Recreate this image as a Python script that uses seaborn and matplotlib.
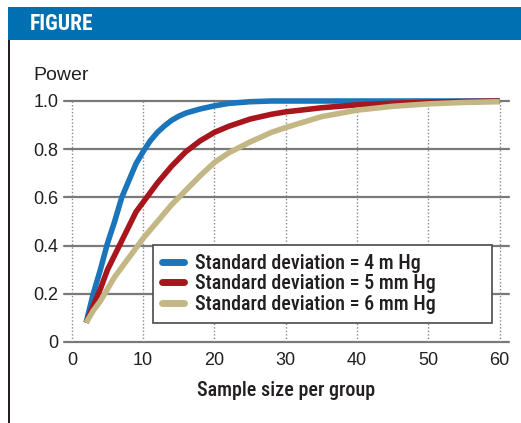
import matplotlib
matplotlib.use("Agg")
import matplotlib.pyplot as plt
import seaborn as sns
import pandas as pd
from matplotlib.patches import Rectangle
from matplotlib.lines import Line2D
from matplotlib import font_manager
from matplotlib.font_manager import FontProperties

sample_size = [2, 3, 4, 5, 6, 7, 8, 9, 10, 11, 12, 13, 14, 15, 16, 18, 20, 22, 25, 28, 30, 35, 40, 45, 50, 55, 60]
power_sd4 = [0.08, 0.20, 0.30, 0.41, 0.50, 0.60, 0.67, 0.74, 0.79, 0.835, 0.87, 0.897, 0.92, 0.937, 0.95, 0.967,
             0.98, 0.99, 0.997, 1.0, 1.0, 1.0, 1.0, 1.0, 1.0, 1.0, 1.0]
power_sd5 = [0.08, 0.15, 0.22, 0.30, 0.36, 0.42, 0.48, 0.54, 0.58, 0.62, 0.66, 0.695, 0.73, 0.76, 0.79, 0.835,
             0.87, 0.895, 0.925, 0.945, 0.955, 0.972, 0.984, 0.991, 0.995, 0.998, 1.0]
power_sd6 = [0.08, 0.13, 0.17, 0.22, 0.27, 0.31, 0.35, 0.39, 0.43, 0.465, 0.50, 0.535, 0.57, 0.60, 0.63, 0.69,
             0.745, 0.785, 0.83, 0.87, 0.89, 0.935, 0.962, 0.978, 0.988, 0.994, 0.997]
series_labels = ["Standard deviation = 4 m Hg", "Standard deviation = 5 mm Hg", "Standard deviation = 6 mm Hg"]
series_colors = ["#1b75bb", "#a8161d", "#c2b785"]
x_ticks = [0, 10, 20, 30, 40, 50, 60]
y_ticks = [0, 0.2, 0.4, 0.6, 0.8, 1.0]
y_tick_labels = ["0", "0.2", "0.4", "0.6", "0.8", "1.0"]

df = pd.concat([
    pd.DataFrame({"n": sample_size, "power": vals, "series": lab})
    for vals, lab in zip([power_sd4, power_sd5, power_sd6], series_labels)
])

sns.set_theme(style="white")
plt.rcParams["font.family"] = ["Liberation Sans", "DejaVu Sans"]


def _stretch_ok(f):
    s = f.stretch
    if isinstance(s, str):
        return "condensed" in s or "narrow" in s
    try:
        return int(s) < 500
    except Exception:
        return False


def _wnum(w):
    table = {"light": 300, "normal": 400, "regular": 400, "medium": 500, "semibold": 600,
             "demibold": 600, "bold": 700, "heavy": 800, "black": 900}
    if isinstance(w, str):
        return table.get(w.lower(), 400)
    return int(w)


cands = [f for f in font_manager.fontManager.ttflist
         if ("Condensed" in f.name or "Narrow" in f.name or _stretch_ok(f)) and f.style == "normal"]
pref = ["Liberation Sans Narrow", "Roboto Condensed", "Roboto", "Open Sans Condensed", "Open Sans",
        "Noto Sans Condensed", "Noto Sans", "Inter", "DejaVu Sans Condensed", "DejaVu Sans"]


def pick(weight):
    best = None
    for f in cands:
        rank = next((i for i, p in enumerate(pref) if f.name.startswith(p)), len(pref))
        key = (rank, abs(_wnum(f.weight) - weight))
        if best is None or key < best[0]:
            best = (key, f.fname)
    return best[1] if best else None


f_med = pick(500)
f_bold = pick(700)


def fp(path, size, fallback_weight="normal"):
    if path:
        return FontProperties(fname=path, size=size)
    return FontProperties(family="Liberation Sans", size=size * 0.88, weight=fallback_weight)


W, H = 521, 423
fig = plt.figure(figsize=(W / 100, H / 100), dpi=100)

# header band
fig.patches.append(Rectangle((8 / W, 1 - 40 / H), 1 - 8 / W, 33 / H, transform=fig.transFigure,
                             facecolor="#0070b3", edgecolor="none", zorder=0))
fig.patches.append(Rectangle((8 / W, 0), 2.2 / W, 1 - 40 / H, transform=fig.transFigure,
                             facecolor="#231f20", edgecolor="none", zorder=0))
fig.text(30 / W, 1 - 23.5 / H, "FIGURE", color="white", fontproperties=fp(f_bold, 15.5, "bold"),
         ha="left", va="center")

ax = fig.add_axes([64 / W, 1 - 342 / H, 445 / W, 241 / H])
ax.set_xlim(-1.1, 61.3)
ax.set_ylim(0, 1.0)

for yv in y_ticks:
    ax.axhline(yv, color="#7a7a7a", lw=1.6, zorder=1, clip_on=False)
for xv in x_ticks:
    ax.plot([xv, xv], [0, 1.0], color="#8a8a8a", lw=1.0, ls=(0, (1, 1.5)), zorder=1)

sns.lineplot(data=df, x="n", y="power", hue="series", palette=series_colors, hue_order=series_labels,
             lw=4.0, ax=ax, legend=False, zorder=3, estimator=None, sort=True)
for ln in ax.lines[-3:]:
    ln.set_clip_on(False)
    ln.set_solid_capstyle("butt")
    ln.set_solid_joinstyle("round")

for s in ax.spines.values():
    s.set_visible(False)
ax.set_xticks(x_ticks)
ax.set_xticklabels([str(v) for v in x_ticks], family="Liberation Sans", fontsize=13)
ax.set_yticks(y_ticks)
ax.set_yticklabels(y_tick_labels, family="Liberation Sans", fontsize=13)
ax.tick_params(axis="both", length=0, colors="#231f20")
ax.tick_params(axis="y", pad=4)
ax.tick_params(axis="x", pad=7)
ax.set_xlabel("Sample size per group", fontproperties=fp(f_med, 14.5), color="#231f20", labelpad=9)
ax.set_ylabel("")
fig.text(33 / W, 1 - 75 / H, "Power", fontsize=14, family="Liberation Sans", color="#231f20",
         ha="left", va="center")

handles = [Line2D([], [], color=c, lw=5, solid_capstyle="round") for c in series_colors]
leg = ax.legend(handles, series_labels, loc="lower left", mode="expand",
                bbox_to_anchor=(0.2, 0.079, 0.762, 0.344),
                prop=fp(f_med, 14.5), frameon=True, fancybox=False, edgecolor="#4a4a4a", framealpha=1,
                handlelength=1.1, handletextpad=0.55, labelspacing=0.08, borderpad=0.45, borderaxespad=0)
leg.get_frame().set_linewidth(1.2)
leg.set_zorder(5)
for t in leg.get_texts():
    t.set_color("#231f20")

fig.savefig("out.png", dpi=100)
